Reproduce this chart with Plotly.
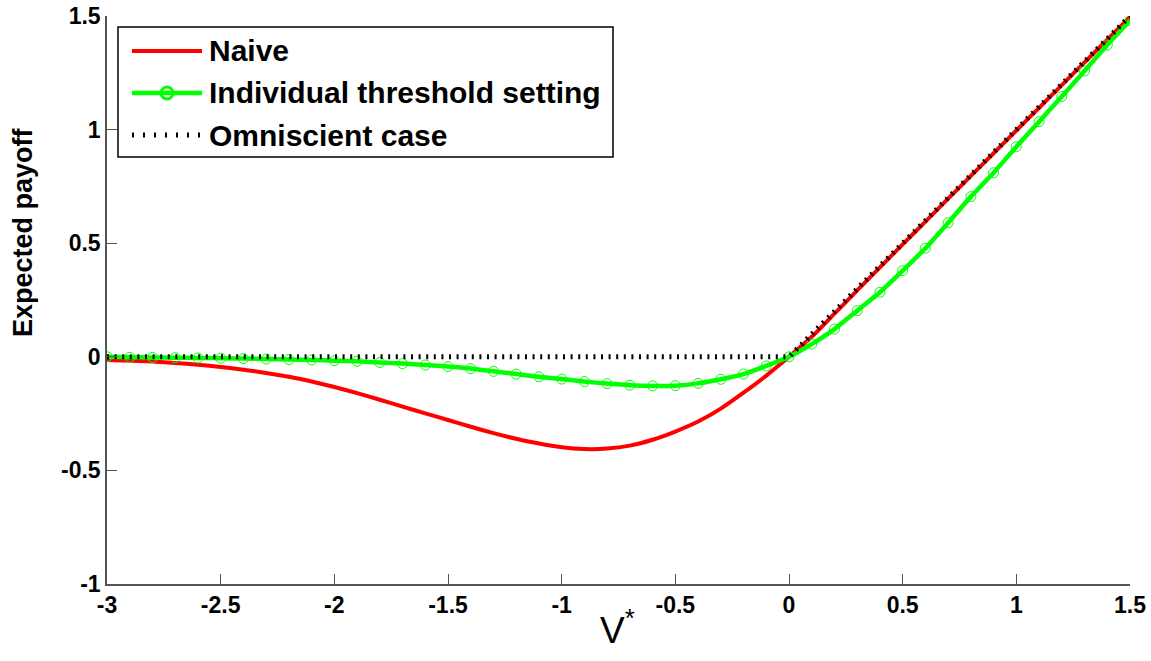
import plotly.graph_objects as go

# ---------------- data ----------------
v_star = [-3.0, -2.9, -2.8, -2.7, -2.6, -2.5, -2.4, -2.3, -2.2, -2.1,
          -2.0, -1.9, -1.8, -1.7, -1.6, -1.5, -1.4, -1.3, -1.2, -1.1,
          -1.0, -0.9, -0.8, -0.7, -0.6, -0.5, -0.4, -0.3, -0.2, -0.1,
          0.0, 0.1, 0.2, 0.3, 0.4, 0.5, 0.6, 0.7, 0.8, 0.9,
          1.0, 1.1, 1.2, 1.3, 1.4, 1.5]

naive = [-0.014, -0.017, -0.021, -0.027, -0.035, -0.045, -0.057, -0.071, -0.088, -0.109,
         -0.133, -0.160, -0.189, -0.219, -0.249, -0.278, -0.308, -0.336, -0.361, -0.382,
         -0.398, -0.406, -0.404, -0.391, -0.365, -0.329, -0.285, -0.228, -0.158, -0.083,
         0.0, 0.088, 0.190, 0.292, 0.394, 0.495, 0.595, 0.696, 0.796, 0.896,
         0.996, 1.096, 1.196, 1.296, 1.396, 1.495]

individual = [0.0, -0.002, -0.003, -0.004, -0.005, -0.006, -0.008, -0.010, -0.012, -0.014,
              -0.017, -0.020, -0.025, -0.030, -0.036, -0.043, -0.052, -0.064, -0.076, -0.088,
              -0.098, -0.109, -0.118, -0.125, -0.128, -0.127, -0.117, -0.099, -0.076, -0.040,
              0.0, 0.056, 0.122, 0.203, 0.284, 0.379, 0.478, 0.590, 0.705, 0.810,
              0.925, 1.035, 1.146, 1.258, 1.372, 1.480]

omni_x = [-3.0, 0.0, 1.5]
omni_y = [0.0, 0.0, 1.5]

x_ticks = [-3, -2.5, -2, -1.5, -1, -0.5, 0, 0.5, 1, 1.5]
x_tick_labels = ["-3", "-2.5", "-2", "-1.5", "-1", "-0.5", "0", "0.5", "1", "1.5"]
y_ticks = [-1, -0.5, 0, 0.5, 1, 1.5]
y_tick_labels = ["-1", "-0.5", "0", "0.5", "1", "1.5"]

series_names = ["Naive", "Individual threshold setting", "Omniscient case"]
x_title = "V<sup>*</sup>"
y_title = "Expected payoff"

# ---------------- style ----------------
RED = "#FF0000"
GREEN = "#00FF00"
BLACK = "#000000"
AXIS = "#555555"
FONT = "Liberation Sans, Arial, sans-serif"
DOT = "2px,5.6px"

W, H = 1151, 661
L, R, T, B = 107, 21, 16, 77
PW, PH = W - L - R, H - T - B


def px(x):
    return (x - L) / PW


def py(y):
    return (H - B - y) / PH


fig = go.Figure()
fig.add_trace(go.Scatter(x=v_star, y=naive, mode="lines", name=series_names[0],
                         line=dict(color=RED, width=4, shape="spline", smoothing=0.6)))
fig.add_trace(go.Scatter(x=v_star, y=individual, mode="lines+markers", name=series_names[1],
                         line=dict(color=GREEN, width=4.5, shape="spline", smoothing=0.6),
                         marker=dict(symbol="circle-open", size=10, color=GREEN,
                                     line=dict(width=1, color=GREEN))))
fig.add_trace(go.Scatter(x=omni_x, y=omni_y, mode="lines", name=series_names[2],
                         line=dict(color=BLACK, width=5, dash=DOT)))

# ---------------- custom legend ----------------
shapes = []
annotations = []
shapes.append(dict(type="rect", xref="paper", yref="paper",
                   x0=px(118), x1=px(613), y0=py(157), y1=py(27),
                   line=dict(color=BLACK, width=1.5), fillcolor="white", layer="above"))
rows = [51, 93, 135]
shapes.append(dict(type="line", xref="paper", yref="paper", x0=px(132), x1=px(202),
                   y0=py(rows[0]), y1=py(rows[0]), line=dict(color=RED, width=4), layer="above"))
shapes.append(dict(type="line", xref="paper", yref="paper", x0=px(132), x1=px(202),
                   y0=py(rows[1]), y1=py(rows[1]), line=dict(color=GREEN, width=4.5), layer="above"))
shapes.append(dict(type="circle", xref="paper", yref="paper", x0=px(161), x1=px(173),
                   y0=py(rows[1] + 6), y1=py(rows[1] - 6), line=dict(color=GREEN, width=3),
                   layer="above"))
shapes.append(dict(type="line", xref="paper", yref="paper", x0=px(132), x1=px(202),
                   y0=py(rows[2]), y1=py(rows[2]), line=dict(color=BLACK, width=5, dash="2px,9px"),
                   layer="above"))
for name, r in zip(series_names, rows):
    annotations.append(dict(text=name, xref="paper", yref="paper", x=px(207), y=py(r),
                            xanchor="left", yanchor="middle", showarrow=False,
                            font=dict(family=FONT, size=30, color=BLACK, weight="bold")))

# axis titles
annotations.append(dict(text=y_title, xref="paper", yref="paper", x=px(23), y=py(232),
                        xanchor="center", yanchor="middle", textangle=-90, showarrow=False,
                        font=dict(family=FONT, size=27, color=BLACK, weight="bold")))
annotations.append(dict(text=x_title, xref="paper", yref="paper", x=px(617), y=py(628),
                        xanchor="center", yanchor="middle", showarrow=False,
                        font=dict(family=FONT, size=37, color=BLACK)))

fig.update_layout(
    width=W, height=H,
    margin=dict(l=L, r=R, t=T, b=B, autoexpand=False),
    paper_bgcolor="white", plot_bgcolor="white",
    showlegend=False,
    shapes=shapes, annotations=annotations,
    font=dict(family=FONT, color=BLACK),
)
fig.update_xaxes(
    range=[-3, 1.5], tickvals=x_ticks, ticktext=x_tick_labels, automargin=False,
    showgrid=False, zeroline=False, showline=True, linecolor=AXIS, linewidth=1.5,
    ticks="inside", ticklen=10, tickcolor=AXIS, tickwidth=1,
    tickfont=dict(family=FONT, size=23, color=BLACK, weight="bold"),
)
fig.update_yaxes(
    range=[-1, 1.5], tickvals=y_ticks, ticktext=y_tick_labels, automargin=False,
    showgrid=False, zeroline=False, showline=True, linecolor=AXIS, linewidth=1.5,
    ticks="inside", ticklen=10, tickcolor=AXIS, tickwidth=1,
    tickfont=dict(family=FONT, size=23, color=BLACK, weight="bold"),
)

fig.write_html("out.html", config={"displayModeBar": False},
               post_script="document.body.style.margin='0';document.body.style.overflow='hidden';")
